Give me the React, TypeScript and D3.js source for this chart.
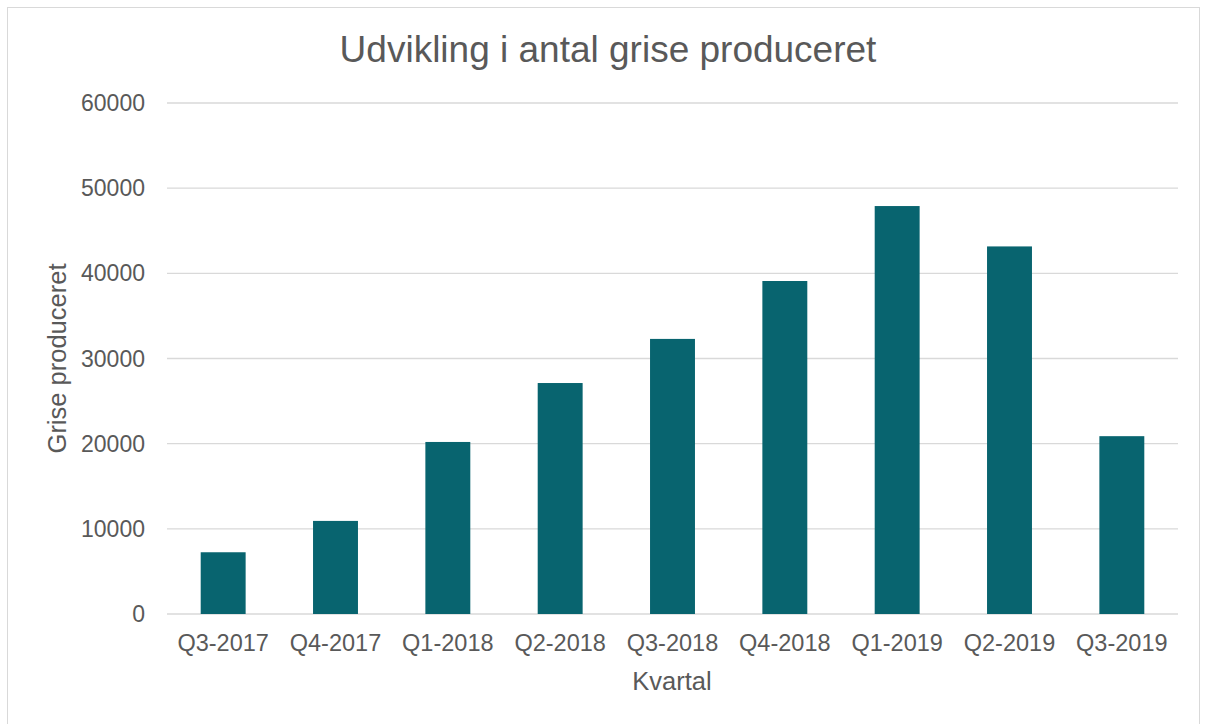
import React, { useEffect, useRef } from "react";
import * as d3 from "d3";

const quarters = [
  "Q3-2017",
  "Q4-2017",
  "Q1-2018",
  "Q2-2018",
  "Q3-2018",
  "Q4-2018",
  "Q1-2019",
  "Q2-2019",
  "Q3-2019",
];
const pigs = [7250, 10930, 20200, 27120, 32300, 39100, 47900, 43160, 20880];
const yTicks = [0, 10000, 20000, 30000, 40000, 50000, 60000];

export default function App() {
  const ref = useRef<SVGSVGElement>(null);

  useEffect(() => {
    const width = 1206,
      height = 724;
    const margin = { top: 103, right: 28, bottom: 110, left: 167 };

    const svg = d3.select(ref.current);
    svg.selectAll("*").remove();

    svg
      .append("rect")
      .attr("x", 7.5)
      .attr("y", 7.5)
      .attr("width", 1192)
      .attr("height", 730)
      .attr("fill", "#fff")
      .attr("stroke", "#d9d9d9");

    const x = d3
      .scaleBand()
      .domain(quarters)
      .range([margin.left, width - margin.right])
      .paddingInner(0.6)
      .paddingOuter(0.3);

    const y = d3
      .scaleLinear()
      .domain([0, 60000])
      .range([height - margin.bottom, margin.top]);

    // gridlines
    svg
      .append("g")
      .selectAll("line")
      .data(yTicks)
      .enter()
      .append("line")
      .attr("x1", margin.left)
      .attr("x2", width - margin.right)
      .attr("y1", (d) => y(d))
      .attr("y2", (d) => y(d))
      .attr("stroke", "#d9d9d9")
      .attr("stroke-width", 1.3);

    svg
      .append("g")
      .selectAll("text")
      .data(yTicks)
      .enter()
      .append("text")
      .attr("x", 145)
      .attr("y", (d) => y(d))
      .attr("dy", "0.35em")
      .attr("text-anchor", "end")
      .attr("font-size", 23)
      .attr("fill", "#595959")
      .text((d) => d);

    svg
      .append("g")
      .selectAll("rect")
      .data(pigs)
      .enter()
      .append("rect")
      .attr("x", (d, i) => x(quarters[i]) as number)
      .attr("width", x.bandwidth())
      .attr("y", (d) => y(d))
      .attr("height", (d) => y(0) - y(d))
      .attr("fill", "#08646f");

    svg
      .append("g")
      .selectAll("text")
      .data(quarters)
      .enter()
      .append("text")
      .attr("x", (d) => (x(d) as number) + x.bandwidth() / 2)
      .attr("y", 651)
      .attr("text-anchor", "middle")
      .attr("font-size", 23.5)
      .attr("fill", "#595959")
      .text((d) => d);

    svg
      .append("text")
      .attr("x", 608)
      .attr("y", 62)
      .attr("text-anchor", "middle")
      .attr("font-size", 37)
      .attr("fill", "#595959")
      .text("Udvikling i antal grise produceret");

    svg
      .append("text")
      .attr("x", 672)
      .attr("y", 690)
      .attr("text-anchor", "middle")
      .attr("font-size", 25.5)
      .attr("fill", "#595959")
      .text("Kvartal");

    svg
      .append("text")
      .attr("transform", `translate(66, ${y(30000)}) rotate(-90)`)
      .attr("text-anchor", "middle")
      .attr("font-size", 25.5)
      .attr("fill", "#595959")
      .text("Grise produceret");
  }, []);

  return (
    <svg
      ref={ref}
      width={1206}
      height={724}
      style={{
        position: "absolute",
        left: 0,
        top: 0,
        fontFamily: "'Liberation Sans', Arial, sans-serif",
      }}
    ></svg>
  );
}
